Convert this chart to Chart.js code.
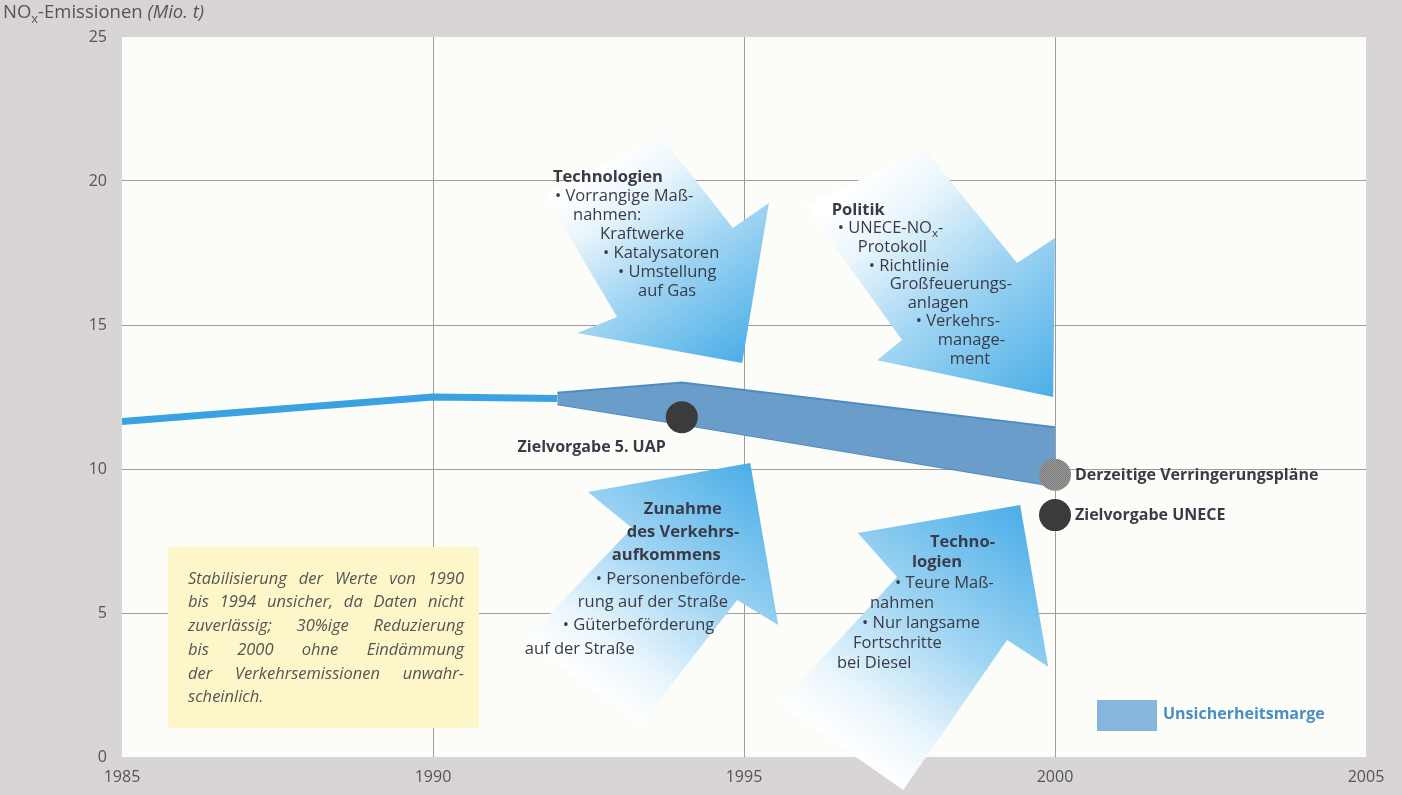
<!DOCTYPE html>
<html>
<head>
<meta charset="utf-8">
<script src="https://cdn.jsdelivr.net/npm/chart.js@4.4.1/dist/chart.umd.min.js"></script>
<style>
    html, body { margin: 0; padding: 0; background: #d7d5d6; }
    #chart_nox { display: block; }
</style>
</head>
<body>
<canvas id="chart_nox" width="1402" height="795"></canvas>
<script>
// NOx emissions (Mio. t), measured part
const emissionYears = [1985, 1990, 1992];
const emissionValues = [11.65, 12.5, 12.45];

// uncertainty margin (Unsicherheitsmarge)
const marginYears = [1992, 1994, 2000];
const marginUpper = [12.65, 13.0, 11.45];
const marginLower = [12.25, 11.55, 9.4];

// targets / plans
const targetLabels = ['Zielvorgabe 5. UAP', 'Derzeitige Verringerungspläne', 'Zielvorgabe UNECE'];
const targetYears = [1994, 2000, 2000];
const targetValues = [11.8, 9.8, 8.4];

const xTicks = [1985, 1990, 1995, 2000, 2005];
const yTicks = [0, 5, 10, 15, 20, 25];

const boxLines = [
    'Stabilisierung der Werte von 1990',
    'bis 1994 unsicher, da Daten nicht',
    'zuverlässig; 30%ige Reduzierung',
    'bis 2000 ohne Eindämmung',
    'der Verkehrsemissionen unwahr-',
    'scheinlich.'
];

// big influence arrows, corners in [year, value]:
// tail, tail, neck, barb, tip, barb, neck
const arrows = [
    [[1991.80, 19.51], [1993.65, 21.60], [1994.82, 18.37], [1995.40, 19.24], [1994.97, 13.68], [1992.32, 14.72], [1992.96, 15.28]],
    [[1995.98, 19.17], [1997.91, 21.08], [1999.39, 17.15], [2000.00, 18.02], [1999.97, 12.50], [1997.14, 13.78], [1997.54, 14.48]],
    [[1991.48, 4.06], [1993.33, 1.11], [1994.89, 5.45], [1995.55, 4.58], [1995.10, 10.21], [1992.49, 9.20], [1993.20, 7.95]],
    [[1995.58, 1.84], [1997.56, -1.15], [1999.23, 4.06], [1999.89, 3.13], [1999.44, 8.75], [1996.83, 7.78], [1997.46, 6.25]]
];

// text on the arrows: anchor [year, value], line height, [dx, text, bold]
const arrowNotes = [
    { at: [1991.93, 20.14], lh: 19, lines: [
        [0, 'Technologien', true], [2, '• Vorrangige Maß-'], [20, 'nahmen:'], [47, 'Kraftwerke'],
        [50, '• Katalysatoren'], [65, '• Umstellung'], [85, 'auf Gas']] },
    { at: [1996.41, 18.99], lh: 18.6, lines: [
        [0, 'Politik', true], [6, '• UNECE-NO_x-'], [26, 'Protokoll'], [37, '• Richtlinie'],
        [58, 'Großfeuerungs-'], [76, 'anlagen'], [84, '• Verkehrs-'], [106, 'manage-'], [118, 'ment']] },
    { at: [1993.39, 8.61], lh: 23.3, lines: [
        [0, 'Zunahme', true], [-17, 'des Verkehrs-', true], [-32, 'aufkommens', true],
        [-48, '• Personenbeförde-'], [-66, 'rung auf der Straße'], [-81, '• Güterbeförderung'], [-119, 'auf der Straße']] },
    { at: [1997.99, 7.45], lh: 20.2, lines: [
        [0, 'Techno-', true], [-18, 'logien', true], [-35, '• Teure Maß-'], [-60, 'nahmen'],
        [-68, '• Nur langsame'], [-77, 'Fortschritte'], [-93, 'bei Diesel']] }
];

const FONT = '"Open Sans", Lato, sans-serif';
const TEXT_COLOR = '#3b3b47';
const AXIS_COLOR = '#555555';

function fontStr(size, bold, italic) {
    return (italic ? 'italic ' : '') + (bold ? 'bold ' : '') + size + 'px ' + FONT;
}

function makePattern(a, b) {
    const c = document.createElement('canvas');
    c.width = 2;
    c.height = 2;
    const g = c.getContext('2d');
    g.fillStyle = a;
    g.fillRect(0, 0, 2, 2);
    g.fillStyle = b;
    g.fillRect(0, 0, 1, 1);
    g.fillRect(1, 1, 1, 1);
    return g.createPattern(c, 'repeat');
}

const frameFill = makePattern('#ddd6db', '#d2d3d0');
const planFill = makePattern('#9c9c9c', '#797979');
const MARGIN_COLOR = '#6a9dca';

// "_x" draws x as subscript
function richWidth(ctx, text, size, bold, italic) {
    let w = 0;
    text.split(/_(.)/).forEach((p, i) => {
        ctx.font = fontStr(i % 2 ? size * 0.7 : size, bold, italic);
        w += ctx.measureText(p).width;
    });
    return w;
}

function drawRich(ctx, text, x, y, size, bold, italic, align) {
    let cx = align === 'right' ? x - richWidth(ctx, text, size, bold, italic) : x;
    ctx.textAlign = 'left';
    ctx.textBaseline = 'middle';
    text.split(/_(.)/).forEach((p, i) => {
        if (!p) return;
        const sub = i % 2 === 1;
        ctx.font = fontStr(sub ? size * 0.7 : size, bold, italic);
        ctx.fillText(p, cx, sub ? y + size * 0.32 : y);
        cx += ctx.measureText(p).width;
    });
}

const backgroundPlugin = {
    id: 'frame',
    beforeDraw(chart) {
        const ctx = chart.ctx;
        const a = chart.chartArea;
        ctx.save();
        ctx.fillStyle = frameFill;
        ctx.fillRect(0, 0, chart.width, chart.height);
        ctx.fillStyle = '#fcfcf9';
        ctx.fillRect(a.left, a.top, a.right - a.left, a.bottom - a.top);
        ctx.restore();
    }
};

const annotationPlugin = {
    id: 'notes',
    beforeDatasetsDraw(chart) {
        const ctx = chart.ctx;
        const sx = chart.scales.x;
        const sy = chart.scales.y;
        const px = v => sx.getPixelForValue(v);
        const py = v => sy.getPixelForValue(v);
        ctx.save();

        // yellow note box
        const bx = px(1985.74), by = py(7.29);
        const bw = px(1990.74) - bx, bh = py(1.01) - by;
        ctx.fillStyle = '#fcf6c8';
        ctx.fillRect(bx, by, bw, bh);
        ctx.fillStyle = '#555555';
        const textW = bw - 35;
        boxLines.forEach((line, i) => {
            const y = by + 32 + i * 23.7;
            ctx.font = fontStr(16.5, false, true);
            ctx.textBaseline = 'middle';
            ctx.textAlign = 'left';
            const words = line.split(' ');
            if (i === boxLines.length - 1 || words.length < 2) {
                ctx.fillText(line, bx + 20, y);
                return;
            }
            const sum = words.reduce((s, w) => s + ctx.measureText(w).width, 0);
            const gap = (textW - sum) / (words.length - 1);
            let x = bx + 20;
            words.forEach(w => {
                ctx.fillText(w, x, y);
                x += ctx.measureText(w).width + gap;
            });
        });

        // arrows
        arrows.forEach(pts => {
            const p = pts.map(q => [px(q[0]), py(q[1])]);
            const tx = (p[0][0] + p[1][0]) / 2, ty = (p[0][1] + p[1][1]) / 2;
            const grad = ctx.createLinearGradient(tx, ty, p[4][0], p[4][1]);
            grad.addColorStop(0, '#ffffff');
            grad.addColorStop(0.18, '#eaf6fc');
            grad.addColorStop(0.5, '#a3d6f3');
            grad.addColorStop(1, '#4aaee7');
            ctx.beginPath();
            p.forEach((q, i) => i ? ctx.lineTo(q[0], q[1]) : ctx.moveTo(q[0], q[1]));
            ctx.closePath();
            ctx.fillStyle = grad;
            ctx.fill();
        });

        // arrow texts
        ctx.fillStyle = TEXT_COLOR;
        arrowNotes.forEach(n => {
            const x0 = px(n.at[0]), y0 = py(n.at[1]);
            n.lines.forEach((l, i) => {
                drawRich(ctx, l[1], x0 + l[0], y0 + i * n.lh, 16.5, !!l[2], false, 'left');
            });
        });
        ctx.restore();
    },
    afterDatasetsDraw(chart) {
        const ctx = chart.ctx;
        const sx = chart.scales.x;
        const sy = chart.scales.y;
        const a = chart.chartArea;
        ctx.save();

        // target labels
        ctx.fillStyle = TEXT_COLOR;
        const place = [[-16, 30, 'right'], [20, 1, 'left'], [20, 0, 'left']];
        targetLabels.forEach((t, i) => {
            const x = sx.getPixelForValue(targetYears[i]);
            const y = sy.getPixelForValue(targetValues[i]);
            drawRich(ctx, t, x + place[i][0], y + place[i][1], 16, true, false, place[i][2]);
        });

        // axis title
        ctx.fillStyle = AXIS_COLOR;
        drawRich(ctx, 'NO_x-Emissionen ', 3, 13, 18.5, false, false, 'left');
        const w = richWidth(ctx, 'NO_x-Emissionen ', 18.5, false, false);
        drawRich(ctx, '(Mio. t)', 3 + w, 13, 18.5, false, true, 'left');

        // legend
        ctx.fillStyle = '#86b6dd';
        ctx.fillRect(a.right - 269, a.bottom - 57, 60, 31);
        ctx.fillStyle = '#4a8ec2';
        drawRich(ctx, 'Unsicherheitsmarge', a.right - 203, a.bottom - 43, 16, true, false, 'left');
        ctx.restore();
    }
};

const toPoints = (xs, ys) => xs.map((x, i) => ({ x: x, y: ys[i] }));

const edgeGrid = (lo, hi) => c => (c.tick.value === lo || c.tick.value === hi) ? 'rgba(0,0,0,0)' : '#9d9d9d';

new Chart(document.getElementById('chart_nox'), {
    type: 'line',
    data: {
        datasets: [
            {
                label: 'Ziele',
                data: toPoints(targetYears, targetValues),
                showLine: false,
                pointRadius: 16,
                pointHoverRadius: 16,
                pointBorderWidth: 0,
                pointBackgroundColor: ['#3b3b3b', planFill, '#3b3b3b'],
                order: 0
            },
            {
                label: 'NOx-Emissionen',
                data: toPoints(emissionYears, emissionValues),
                borderColor: '#3aa2e2',
                borderWidth: 7,
                borderJoinStyle: 'round',
                pointRadius: 0,
                tension: 0,
                order: 1
            },
            {
                label: 'Unsicherheitsmarge',
                data: toPoints(marginYears, marginUpper),
                borderColor: '#4f8cc4',
                borderWidth: 2,
                backgroundColor: MARGIN_COLOR,
                fill: '+1',
                pointRadius: 0,
                tension: 0,
                order: 2
            },
            {
                label: 'Unsicherheitsmarge unten',
                data: toPoints(marginYears, marginLower),
                borderColor: '#4f8cc4',
                borderWidth: 2,
                pointRadius: 0,
                tension: 0,
                order: 3
            }
        ]
    },
    options: {
        responsive: false,
        animation: false,
        events: [],
        layout: { padding: { left: 0, top: 37, right: 36, bottom: 0 } },
        plugins: {
            legend: { display: false },
            tooltip: { enabled: false },
            title: { display: false }
        },
        scales: {
            x: {
                type: 'linear',
                min: xTicks[0],
                max: xTicks[xTicks.length - 1],
                afterBuildTicks: s => { s.ticks = xTicks.map(v => ({ value: v })); },
                afterFit: s => { s.height = 38; },
                border: { display: false },
                grid: { color: edgeGrid(1985, 2005), lineWidth: 1, drawTicks: false },
                ticks: {
                    padding: 11,
                    color: AXIS_COLOR,
                    font: { family: FONT, size: 16 },
                    maxRotation: 0,
                    callback: v => String(v)
                }
            },
            y: {
                type: 'linear',
                min: yTicks[0],
                max: yTicks[yTicks.length - 1],
                afterBuildTicks: s => { s.ticks = yTicks.map(v => ({ value: v })); },
                afterFit: s => { s.width = 122; },
                border: { display: false },
                grid: { color: edgeGrid(0, 25), lineWidth: 1, drawTicks: false },
                ticks: {
                    padding: 15,
                    color: AXIS_COLOR,
                    font: { family: FONT, size: 16 },
                    callback: v => String(v)
                }
            }
        }
    },
    plugins: [backgroundPlugin, annotationPlugin]
});
</script>
</body>
</html>
